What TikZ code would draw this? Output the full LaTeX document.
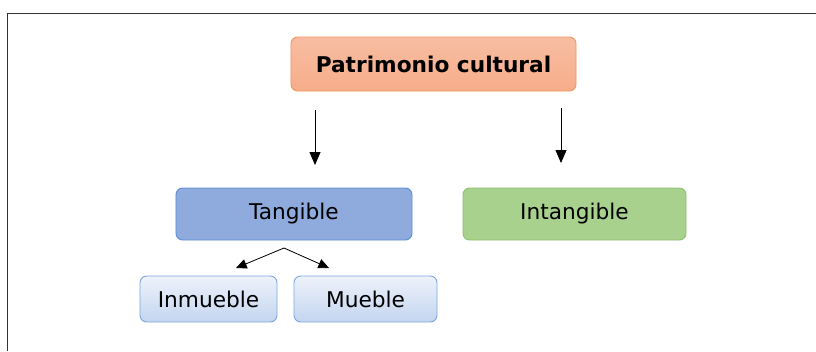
\documentclass[tikz,border=0pt]{standalone}
\usepackage{fontspec}
\setmainfont{DejaVu Sans}
\usetikzlibrary{arrows.meta}

\definecolor{orangefill}{HTML}{F6AD8A}
\definecolor{orangeline}{HTML}{F29460}
\definecolor{bluefill}{HTML}{8FAADC}
\definecolor{blueline}{HTML}{5B8FD8}
\definecolor{greenfill}{HTML}{A9D18E}
\definecolor{greenline}{HTML}{8CC26B}
\definecolor{paleblue}{HTML}{C4D5F0}
\definecolor{paleline}{HTML}{7FA6DC}

\tikzset{
  box/.style = {rounded corners=2mm, line width=0.8pt, inner sep=0pt,
                font=\fontsize{18.5}{22}\selectfont},
  arr/.style = {-{Triangle[length=3.9mm,width=3.3mm]}, line width=0.7pt},
  smallarr/.style = {-{Triangle[length=3.2mm,width=2.9mm]}, line width=0.7pt}
}

\begin{document}
\begin{tikzpicture}[x=0.03cm,y=-0.03cm]
                    \useasboundingbox (0,0) rectangle (816,351);
                    \draw [line width=0.8pt, black!80] (816,13) -- (7,13) -- (7,351);
                    \node [box, draw=orangeline, top color=orangefill!80, bottom color=orangefill, minimum width=8.55cm, minimum height=1.62cm, font=\fontsize{18.5}{22}\selectfont\bfseries] (patrimonio) at (433.5,64) {Patrimonio cultural};
                    \node [box, draw=blueline, fill=bluefill, minimum width=7.08cm, minimum height=1.56cm] (tangible) at (294,214) {Tangible};
                    \node [box, draw=greenline, fill=greenfill, minimum width=6.69cm, minimum height=1.56cm] (intangible) at (574.5,214) {Intangible};
                    \node [box, draw=paleline, top color=white!70!paleblue, bottom color=paleblue, minimum width=4.11cm, minimum height=1.38cm] (inmueble) at (208.5,299) {Inmueble};
                    \node [box, draw=paleline, top color=white!70!paleblue, bottom color=paleblue, minimum width=4.29cm, minimum height=1.38cm] (mueble) at (365.5,299) {Mueble};
                    % arrow ends
                    \coordinate (a1) at (315,110);
                    \coordinate (b1) at (315,165);
                    \coordinate (a2) at (561,108);
                    \coordinate (b2) at (561,163);
                    \coordinate (apex) at (284,248);
                    \coordinate (c1) at (236,268);
                    \coordinate (c2) at (329,268);
                    \draw [arr] (a1) -- (b1);
                    \draw [arr] (a2) -- (b2);
                    \draw [smallarr] (apex) -- (c1);
                    \draw [smallarr] (apex) -- (c2);
                \end{tikzpicture}
\end{document}
